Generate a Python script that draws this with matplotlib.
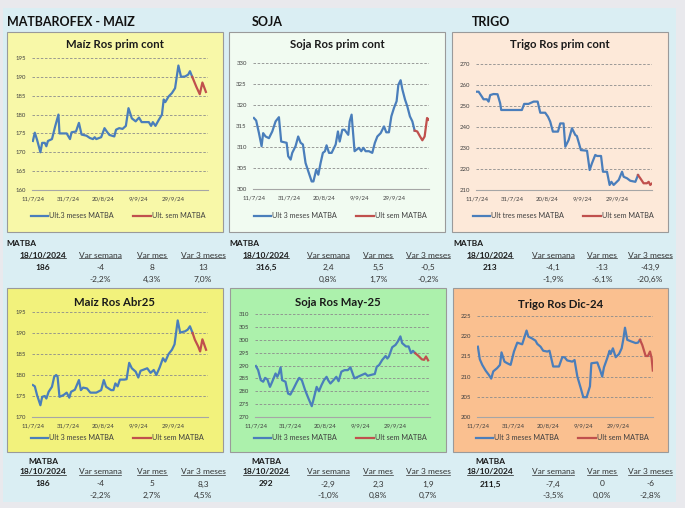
import matplotlib
matplotlib.use("Agg")
import matplotlib.pyplot as plt
import matplotlib.dates as mdates
from matplotlib.patches import Rectangle
from matplotlib.lines import Line2D
from matplotlib.ticker import FuncFormatter
import pandas as pd

plt.rcParams["font.family"] = ["Lato", "DejaVu Sans"]

W, H = 685, 508
inicio = pd.Timestamp("2024-07-11")
fin = pd.Timestamp("2024-10-18")
ticks_fechas = pd.to_datetime(["2024-07-11", "2024-07-31", "2024-08-20", "2024-09-09", "2024-09-29"])

# dias desde 11/7/24 y precios
maiz_prim_d = [0, 1.1, 2.4, 4.3, 5.3, 6.8, 7.7, 8.6, 10.9, 12.8, 14.6, 15.2, 19.3, 21.2, 22.1, 24.6, 26.3, 27.8,
               30.6, 32.5, 34.3, 35.3, 36.2, 39, 40.9, 42.2, 43.7, 46.5, 47.5, 49.3, 51.2, 53.1, 54.6, 56.5, 58.7,
               60.6, 62.1, 66.2, 67.5, 68.5, 70, 71.9, 73.7, 74.7, 75.6, 77.5, 79.4, 81.2, 83.1, 84.6, 86.9, 88.7,
               89.7, 91]
maiz_prim_v = [173, 175.2, 173.3, 170, 172.5, 172.5, 171.6, 173, 173.5, 177, 180, 175, 175, 173.5, 175.3, 175.5,
               177.8, 174.7, 174.4, 173.8, 173.5, 174, 173.5, 174, 176.4, 175.5, 174.6, 174.2, 176, 176.4, 176.2,
               177, 181.7, 179, 178.2, 179.2, 178, 178, 177, 178, 177, 178.6, 180, 184, 183.3, 184.8, 185.7, 187,
               193, 190, 190.1, 190.6, 191.5, 190]
maiz_prim_sem_d = [91, 93.4, 95.3, 96.8, 98.8]
maiz_prim_sem_v = [190, 187.3, 185.4, 188.5, 186]

soja_prim_d = [0, 1.3, 2.9, 4.4, 5.3, 6.7, 8.6, 10.5, 12.4, 14.3, 15.6, 18.7, 19.6, 21, 21.9, 23.8, 25.3, 26.7,
               28, 29.5, 31.4, 33, 34, 35.6, 36.8, 38.1, 39.4, 40.6, 41.5, 42.9, 44.4, 46.7, 48, 49, 50.5, 51.8,
               53.9, 54.7, 55.8, 57.5, 60, 61.3, 62.5, 63.8, 65.7, 67.6, 69.1, 70.5, 72.4, 74.3, 75.6, 77.1, 78.5,
               80, 81.5, 82.5, 83.8, 84.8, 86.3, 87.6, 89.1, 90.5, 91.8]
soja_prim_v = [316.9, 316.3, 313.3, 310.2, 313.3, 312.5, 312.1, 313.7, 316.1, 317.1, 311.3, 311, 307.8, 307,
               308.6, 310.2, 312.5, 311, 310.6, 306.2, 303.8, 301.8, 301.8, 304.6, 303.4, 306.2, 308.6, 309, 310.4,
               308.6, 308.6, 310.6, 313.7, 311.3, 314.1, 314.1, 312.9, 316.1, 317.7, 309, 309.8, 309, 309.8, 309,
               309, 308.6, 311, 312.5, 313.3, 314.9, 313.5, 313.5, 317.3, 319.3, 320.9, 324.8, 325.9, 323.7,
               321.3, 319.7, 317.3, 316.1, 313.9]
soja_prim_sem_d = [91.8, 93.3, 94.9, 96.2, 97.5, 98.9, 99.8]
soja_prim_sem_v = [313.9, 313.7, 312.5, 311.6, 312.5, 316.9, 316.5]

trigo_prim_d = [0, 1, 2.9, 3.8, 5.7, 6.7, 7.6, 9.5, 11.8, 13.3, 13.9, 16.2, 25.7, 27, 29.5, 32.4, 34.7, 36.2, 39,
                40.6, 41.9, 43.4, 46.3, 47.6, 49.5, 50.5, 52.4, 54.3, 56.2, 57.1, 59.4, 62.9, 64.4, 65.7, 67.6,
                68.6, 70.9, 72, 74.3, 75.8, 76.8, 78.1, 81, 82.9, 83.8, 85.7, 87.6, 90.5, 92]
trigo_prim_v = [256.8, 256.8, 254.4, 253.2, 253.2, 252.1, 255.2, 255.7, 255.6, 251.3, 248.1, 248.1, 248.1, 251,
                251, 252.1, 252.1, 246.8, 246.8, 244.9, 242.5, 237.8, 237.8, 241.7, 241.7, 230.6, 233.8, 239.4,
                236.2, 235.7, 229, 228.7, 219.5, 222.7, 226.7, 226.2, 226.2, 218.7, 218.7, 212.4, 213.9, 212.4,
                214.8, 218.7, 216.3, 215.6, 214.4, 213.9, 217.1]
trigo_prim_sem_d = [92, 93.3, 95.2, 97.1, 98.1, 99, 99.8]
trigo_prim_sem_v = [217.1, 215.6, 213.2, 213.2, 213.9, 212.4, 213]

maiz_abr_d = [0, 1.1, 2.4, 4.3, 5.3, 6.8, 7.7, 9, 10.9, 12.2, 13.3, 14.1, 15.2, 17.4, 19.3, 20.8, 21.8, 24, 26.3,
              27.4, 28.7, 30.9, 32.8, 36.2, 39, 40.5, 41.8, 44.7, 46, 47.1, 48.4, 49.7, 52.2, 53.5, 55, 56.5, 58.7,
              60.2, 61.5, 63.4, 65.3, 67.2, 69, 70.5, 72.4, 74.3, 75.6, 77.5, 79.4, 80.9, 82.7, 84.1, 86.9, 88.4,
              89.7, 91.2]
maiz_abr_v = [177.6, 177.3, 175.2, 172.8, 174.8, 175, 174.4, 176, 177.2, 179.6, 180, 179.6, 174.8, 175.2, 175.8,
              174.6, 176, 176.5, 178.8, 176.4, 177, 176.8, 175.8, 175.8, 176.4, 178.8, 177.2, 176.4, 176.4, 178,
              177.3, 178.9, 178.9, 179, 182.9, 181.6, 180.8, 179.4, 181, 181.3, 181.6, 180.5, 181.2, 180, 181.8,
              184, 183.2, 185, 186, 187.3, 193, 190.1, 190.4, 190.8, 191.6, 190]
maiz_abr_sem_d = [91.2, 92.5, 94.4, 95.5, 96.8, 98.9]
maiz_abr_sem_v = [190, 188.4, 186.8, 185.6, 188.5, 186]

soja_may_d = [0, 1.3, 2.8, 4.2, 5.3, 6.6, 8.1, 9.4, 11.3, 12.3, 13.2, 14.2, 15.1, 17, 18.5, 19.8, 21.7, 23.6,
              24.9, 26.4, 28.3, 30.2, 32.1, 33, 34.9, 36.2, 37.7, 39.1, 40.6, 41.5, 42.8, 44.3, 46.2, 47.5, 49.1,
              50.9, 52.8, 54.3, 56.6, 58.5, 60.8, 62.8, 64.2, 67, 68.3, 69.4, 70.8, 72.6, 74.5, 75.5, 76.4, 78.3,
              80.2, 81.5, 83, 84, 86.2, 87.7, 89.1, 90.2, 91.5]
soja_may_v = [289.8, 288.2, 284.3, 283.7, 285.2, 284.6, 281.7, 283.7, 286.9, 285.6, 286.9, 289.3, 284.3, 283.7,
              279.1, 278.7, 281.1, 283.7, 285.2, 284.3, 280.4, 277.2, 274.2, 276.5, 281.7, 280, 282.4, 284.3,
              285.6, 284.3, 283, 284.1, 285.6, 283.9, 287.6, 288.2, 288.2, 289.3, 285, 285.6, 286.3, 286.9, 286,
              286.5, 286.7, 289.5, 290.2, 292.2, 293.7, 292.7, 293.5, 297.1, 298, 299.3, 301.3, 298.7, 297.4,
              297.4, 294.8, 295.7, 294.8]
soja_may_sem_d = [91.5, 93.4, 95.3, 96.6, 97.7, 98.9]
soja_may_sem_v = [294.8, 293.7, 292.4, 292.2, 293.5, 292]

trigo_dic_d = [0, 1.1, 2.5, 4.4, 6.3, 7.6, 8.8, 11, 12.6, 13.5, 15.2, 16.8, 18.7, 20.6, 22.5, 25.3, 27.8, 28.8,
               30.7, 32.9, 33.9, 35.8, 37.3, 39.6, 40.9, 43, 46.3, 48.2, 49.5, 51, 53.9, 55.2, 56.8, 58.7, 60.2,
               62.1, 64, 64.8, 68.2, 69.7, 71, 72, 73.9, 75.2, 75.8, 77.1, 78.7, 80.6, 82.1, 83, 84, 85.3, 87.6,
               90.1, 91.4, 92.6]
trigo_dic_v = [217.4, 214.3, 212.9, 211.5, 210.4, 209.5, 211.3, 212.1, 212.9, 216, 213.7, 213.3, 212.9, 216.2,
               218.4, 218, 221.4, 219.9, 219.5, 218.9, 218.1, 217.4, 216.4, 216.2, 216.4, 212.5, 212.5, 214.8,
               214.8, 214, 213.7, 214.1, 210, 207.2, 204.9, 204.9, 207.6, 213.3, 213.5, 211.7, 210, 212.3, 214.6,
               216.4, 215.6, 217, 214.8, 215.6, 217, 219.1, 222.1, 219.1, 218.7, 218.3, 218.4, 219.1]
trigo_dic_sem_d = [92.6, 93.9, 95.8, 97.1, 98.3, 99.2, 99.9]
trigo_dic_sem_v = [219.1, 217.8, 215.1, 215.1, 216.2, 214.6, 211.5]

# tablas MATBA 18/10/2024
precio_arriba = [186, 316.5, 213]
var_sem_arriba = [-4, 2.4, -4.1]
var_mes_arriba = [8, 5.5, -13]
var_3m_arriba = [13, -0.5, -43.9]
pct_sem_arriba = [-2.2, 0.8, -1.9]
pct_mes_arriba = [4.3, 1.7, -6.1]
pct_3m_arriba = [7.0, -0.2, -20.6]

precio_abajo = [186, 292, 211.5]
var_sem_abajo = [-4, -2.9, -7.4]
var_mes_abajo = [5, 2.3, 0]
var_3m_abajo = [8.3, 1.9, -6]
pct_sem_abajo = [-2.2, -1.0, -3.5]
pct_mes_abajo = [2.7, 0.8, 0.0]
pct_3m_abajo = [4.5, 0.7, -2.8]

AZUL = "#4a7ebb"
ROJO = "#c0504d"

fig = plt.figure(figsize=(W / 100, H / 100), dpi=100)
fig.patch.set_facecolor("#e9e9ed")


def fx(x):
    return x / W


def fy(y):
    return 1 - y / H


def caja(x0, y0, x1, y1, color, borde="none", lw=0.8):
    fig.add_artist(Rectangle((fx(x0), fy(y1)), (x1 - x0) / W, (y1 - y0) / H, transform=fig.transFigure,
                             facecolor=color, edgecolor=borde, lw=lw, zorder=-2))


def fechas(dias):
    return inicio + pd.to_timedelta(dias, unit="D")


def fmt_fecha(x, pos):
    d = mdates.num2date(x)
    return f"{d.day}/{d.month}/{d.strftime('%y')}"


def panel(borde, area, color, titulo, titulo_y, ylim, paso, d3m, v3m, dsem, vsem, lab3m, labsem, ley_y, ley_cx):
    caja(*borde, color, borde="#9a9a9a")
    x0, y0, x1, y1 = area
    ax = fig.add_axes([fx(x0), fy(y1), (x1 - x0) / W, (y1 - y0) / H])
    ax.patch.set_alpha(0)
    l1, = ax.plot(fechas(d3m), v3m, color=AZUL, lw=1.6, solid_joinstyle="round")
    l2, = ax.plot(fechas(dsem), vsem, color=ROJO, lw=1.6, solid_joinstyle="round")
    ax.set_ylim(*ylim)
    ax.set_xlim(inicio - pd.Timedelta(days=0.5), fin + pd.Timedelta(days=1))
    yt = list(range(ylim[0], ylim[1] + 1, paso))
    ax.set_yticks(yt)
    ax.set_xticks(ticks_fechas)
    ax.xaxis.set_major_formatter(FuncFormatter(fmt_fecha))
    for v in yt[1:]:
        ax.axhline(v, color="#8c8c8c", lw=0.6, ls=(0, (3, 2)), zorder=0)
    for s in ["top", "right", "left"]:
        ax.spines[s].set_visible(False)
    ax.spines["bottom"].set_color("#a6a6a6")
    ax.spines["bottom"].set_linewidth(0.8)
    ax.tick_params(length=0, labelsize=4.3, colors="#404040", pad=4.5)
    ax.tick_params(axis="y", pad=4.5)
    fig.text(fx((borde[0] + borde[2]) / 2), fy(titulo_y), titulo, ha="center", va="center",
             fontsize=8.2, fontweight="bold", color="#1a1a1a")
    ax.legend([l1, l2], [lab3m, labsem], ncol=2, loc="center",
              bbox_to_anchor=(fx(ley_cx), fy(ley_y)), bbox_transform=fig.transFigure, frameon=False,
              fontsize=5.2, handlelength=2.4, handletextpad=0.15, columnspacing=2.7,
              labelcolor="#404040")
    return ax


# fondo celeste
caja(3, 8, 676, 502, "#daeef3")

fig.text(fx(7), fy(22), "MATBAROFEX - MAIZ", fontsize=9, fontweight="bold", va="center", color="#111111")
fig.text(fx(252), fy(22), "SOJA", fontsize=9, fontweight="bold", va="center", color="#111111")
fig.text(fx(472), fy(22), "TRIGO", fontsize=9, fontweight="bold", va="center", color="#111111")

panel((7, 32, 223, 232), (32, 58, 208, 190), "#f8f8a8", "Maíz Ros prim cont", 45, (160, 195), 5,
      maiz_prim_d, maiz_prim_v, maiz_prim_sem_d, maiz_prim_sem_v, "Ult.3 meses MATBA", "Ult. sem MATBA", 216, 118)
panel((229, 32, 445, 232), (253, 63, 429, 189), "#f1fbf1", "Soja Ros prim cont", 45, (300, 330), 5,
      soja_prim_d, soja_prim_v, soja_prim_sem_d, soja_prim_sem_v, "Ult 3 meses MATBA", "Ult sem MATBA", 216, 340)
panel((452, 32, 668, 232), (476, 64, 652, 190), "#fde9d9", "Trigo Ros prim cont", 45, (210, 270), 10,
      trigo_prim_d, trigo_prim_v, trigo_prim_sem_d, trigo_prim_sem_v, "Ult tres meses MATBA", "Ult sem MATBA",
      216, 563)
panel((7, 288, 223, 452), (32, 312, 208, 417), "#f2f27c", "Maíz Ros Abr25", 303, (170, 195), 5,
      maiz_abr_d, maiz_abr_v, maiz_abr_sem_d, maiz_abr_sem_v, "Ult 3 meses MATBA", "Ult sem MATBA", 438, 117)
panel((230, 288, 446, 452), (255, 314, 430, 417), "#acf1ac", "Soja Ros May-25", 303, (270, 310), 5,
      soja_may_d, soja_may_v, soja_may_sem_d, soja_may_sem_v, "Ult 3 meses MATBA", "Ult sem MATBA", 438, 340)
panel((453, 288, 668, 452), (477, 316, 653, 417), "#fac090", "Trigo Ros Dic-24", 305, (200, 225), 5,
      trigo_dic_d, trigo_dic_v, trigo_dic_sem_d, trigo_dic_sem_v, "Ult 3 meses MATBA", "Ult sem MATBA", 438, 562)


def num(v):
    return f"{v:g}".replace(".", ",")


def pct(v):
    return f"{v:.1f}%".replace(".", ",")


subrayar = []
col_fecha = [43, 266, 490]
col_var = [[100, 152, 203], [328, 378, 428], [553, 602, 650]]
encab = ["Var semana", "Var mes", "Var 3 meses"]
TS = 6


def tabla(filas, matba_centrado, precios, vs, vm, v3, ps, pm, p3):
    for i in range(3):
        if matba_centrado:
            fig.text(fx(col_fecha[i]), fy(filas[0]), "MATBA", ha="center", va="center", fontsize=TS,
                     fontweight="bold", color="#1a1a1a")
        else:
            fig.text(fx(col_fecha[i] - 37), fy(filas[0]), "MATBA", ha="left", va="center", fontsize=TS,
                     fontweight="bold", color="#1a1a1a")
        t = fig.text(fx(col_fecha[i]), fy(filas[1]), "18/10/2024", ha="center", va="center", fontsize=TS,
                     fontweight="bold", color="#1a1a1a")
        subrayar.append(t)
        fig.text(fx(col_fecha[i]), fy(filas[2]), num(precios[i]), ha="center", va="center", fontsize=TS,
                 fontweight="bold", color="#1a1a1a")
        for j, (e, v, p) in enumerate(zip(encab, [vs[i], vm[i], v3[i]], [ps[i], pm[i], p3[i]])):
            cx = fx(col_var[i][j])
            t = fig.text(cx, fy(filas[1]), e, ha="center", va="center", fontsize=TS, color="#333333")
            subrayar.append(t)
            fig.text(cx, fy(filas[2]), num(v), ha="center", va="center", fontsize=TS, color="#333333")
            fig.text(cx, fy(filas[3]), pct(p), ha="center", va="center", fontsize=TS, color="#333333")


tabla([243, 255, 267, 279], False, precio_arriba, var_sem_arriba, var_mes_arriba, var_3m_arriba,
      pct_sem_arriba, pct_mes_arriba, pct_3m_arriba)
tabla([461, 472, 484, 495], True, precio_abajo, var_sem_abajo, var_mes_abajo, var_3m_abajo,
      pct_sem_abajo, pct_mes_abajo, pct_3m_abajo)

fig.canvas.draw()
r = fig.canvas.get_renderer()
for t in subrayar:
    bb = t.get_window_extent(r).transformed(fig.transFigure.inverted())
    fig.add_artist(Line2D([bb.x0, bb.x1], [bb.y0 + 0.001, bb.y0 + 0.001], transform=fig.transFigure,
                          color=t.get_color(), lw=0.5))

fig.savefig("out.png", dpi=100)
